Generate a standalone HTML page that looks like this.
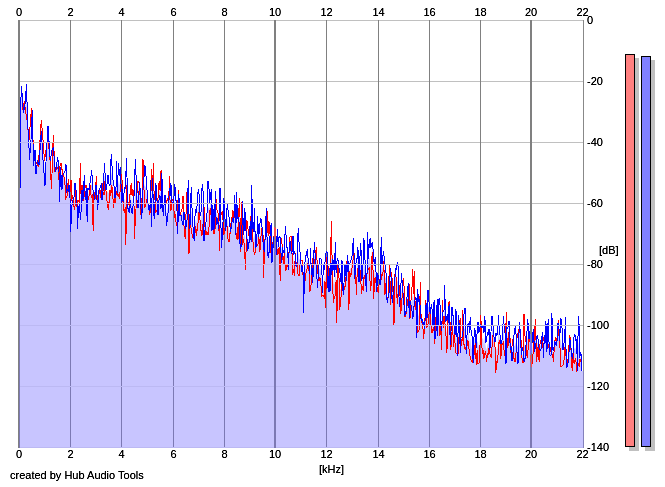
<!DOCTYPE html>
<html><head><meta charset="utf-8"><style>
html,body{margin:0;padding:0;background:#fff;}
body{width:665px;height:487px;position:relative;overflow:hidden;font-family:"Liberation Sans",sans-serif;font-size:11px;color:#000;}
.t{position:absolute;white-space:nowrap;line-height:11px;height:11px;}
.c{transform:translateX(-50%);}
svg{position:absolute;left:0;top:0;}
.bar{position:absolute;border:1px solid #000;box-shadow:4px 4px 0 #c0c0c0;}
</style></head><body>

<svg width="665" height="487" viewBox="0 0 665 487">
<path d="M19.0 448.0 L19.0 188.0 L19.5 188.0 L20.0 188.0 L20.5 188.0 L21.0 97.1 L21.5 86.0 L22.0 97.0 L22.5 102.8 L23.0 108.2 L23.5 109.8 L24.0 106.5 L24.5 104.8 L25.0 105.4 L25.5 104.4 L26.0 102.8 L26.5 101.1 L27.0 110.4 L27.5 123.5 L28.0 129.2 L28.5 135.0 L29.0 143.8 L29.5 146.8 L30.0 140.3 L30.5 133.7 L31.0 127.2 L31.5 118.2 L32.0 117.8 L32.5 124.3 L33.0 141.3 L33.5 155.5 L34.0 155.3 L34.5 155.2 L35.0 155.0 L35.5 161.5 L36.0 167.9 L36.5 166.0 L37.0 164.2 L37.5 162.3 L38.0 163.6 L38.5 163.1 L39.0 160.1 L39.5 152.6 L40.0 145.1 L40.5 137.5 L41.0 130.0 L41.5 128.4 L42.0 135.6 L42.5 142.8 L43.0 150.0 L43.5 156.8 L44.0 163.5 L44.5 170.2 L45.0 171.7 L45.5 163.8 L46.0 156.0 L46.5 148.4 L47.0 142.8 L47.5 137.1 L48.0 131.5 L48.5 138.2 L49.0 144.9 L49.5 151.5 L50.0 158.2 L50.5 164.7 L51.0 167.9 L51.5 171.1 L52.0 162.0 L52.5 154.1 L53.0 146.2 L53.5 144.8 L54.0 152.9 L54.5 161.1 L55.0 169.3 L55.5 171.4 L56.0 169.1 L56.5 166.9 L57.0 164.6 L57.5 163.5 L58.0 164.4 L58.5 170.2 L59.0 177.5 L59.5 186.9 L60.0 176.6 L60.5 168.3 L61.0 169.4 L61.5 177.0 L62.0 179.2 L62.5 178.7 L63.0 175.0 L63.5 175.1 L64.0 175.2 L64.5 176.6 L65.0 178.0 L65.5 180.8 L66.0 181.1 L66.5 192.0 L67.0 193.5 L67.5 189.8 L68.0 186.9 L68.5 185.1 L69.0 185.0 L69.5 190.1 L70.0 195.2 L70.5 206.3 L71.0 202.1 L71.5 204.7 L72.0 201.8 L72.5 198.8 L73.0 199.4 L73.5 200.7 L74.0 202.0 L74.5 200.7 L75.0 194.7 L75.5 192.7 L76.0 190.0 L76.5 195.6 L77.0 204.7 L77.5 215.1 L78.0 209.3 L78.5 205.4 L79.0 203.6 L79.5 200.9 L80.0 195.7 L80.5 193.5 L81.0 203.3 L81.5 196.3 L82.0 187.5 L82.5 193.6 L83.0 197.2 L83.5 198.1 L84.0 189.4 L84.5 186.7 L85.0 189.5 L85.5 193.0 L86.0 188.1 L86.5 195.7 L87.0 206.9 L87.5 202.7 L88.0 194.1 L88.5 194.5 L89.0 193.2 L89.5 188.3 L90.0 184.0 L90.5 184.9 L91.0 185.4 L91.5 184.5 L92.0 185.5 L92.5 195.6 L93.0 207.3 L93.5 202.1 L94.0 194.1 L94.5 196.4 L95.0 195.2 L95.5 194.6 L96.0 184.0 L96.5 188.3 L97.0 198.5 L97.5 203.4 L98.0 200.0 L98.5 195.8 L99.0 192.1 L99.5 190.5 L100.0 189.0 L100.5 191.6 L101.0 191.7 L101.5 191.5 L102.0 193.5 L102.5 190.9 L103.0 191.7 L103.5 188.6 L104.0 183.8 L104.5 175.5 L105.0 176.4 L105.5 182.1 L106.0 190.8 L106.5 192.7 L107.0 192.4 L107.5 191.8 L108.0 191.4 L108.5 193.3 L109.0 193.3 L109.5 190.9 L110.0 187.3 L110.5 182.8 L111.0 176.0 L111.5 171.7 L112.0 176.5 L112.5 181.2 L113.0 189.4 L113.5 195.4 L114.0 193.0 L114.5 195.2 L115.0 200.4 L115.5 197.3 L116.0 191.4 L116.5 177.1 L117.0 184.2 L117.5 192.2 L118.0 185.2 L118.5 180.0 L119.0 184.4 L119.5 185.1 L120.0 180.2 L120.5 178.8 L121.0 178.9 L121.5 185.7 L122.0 191.0 L122.5 192.8 L123.0 197.9 L123.5 205.2 L124.0 202.4 L124.5 199.8 L125.0 198.6 L125.5 203.4 L126.0 202.3 L126.5 183.1 L127.0 181.7 L127.5 197.5 L128.0 206.8 L128.5 206.6 L129.0 207.7 L129.5 209.5 L130.0 200.0 L130.5 194.1 L131.0 196.6 L131.5 200.2 L132.0 204.5 L132.5 201.4 L133.0 198.0 L133.5 196.5 L134.0 201.2 L134.5 211.9 L135.0 197.9 L135.5 189.1 L136.0 191.5 L136.5 194.0 L137.0 196.6 L137.5 196.3 L138.0 194.6 L138.5 190.5 L139.0 187.1 L139.5 185.3 L140.0 191.2 L140.5 202.1 L141.0 210.4 L141.5 211.2 L142.0 205.2 L142.5 192.8 L143.0 174.1 L143.5 178.6 L144.0 183.7 L144.5 185.6 L145.0 186.6 L145.5 186.6 L146.0 189.2 L146.5 193.0 L147.0 196.3 L147.5 199.8 L148.0 203.6 L148.5 206.2 L149.0 208.0 L149.5 210.3 L150.0 209.3 L150.5 193.7 L151.0 198.4 L151.5 195.6 L152.0 189.8 L152.5 187.3 L153.0 184.6 L153.5 188.9 L154.0 203.9 L154.5 205.4 L155.0 201.1 L155.5 199.0 L156.0 198.7 L156.5 202.2 L157.0 205.6 L157.5 208.9 L158.0 206.5 L158.5 196.9 L159.0 191.0 L159.5 189.7 L160.0 192.9 L160.5 192.4 L161.0 189.6 L161.5 184.6 L162.0 185.5 L162.5 202.3 L163.0 209.2 L163.5 211.8 L164.0 204.6 L164.5 199.1 L165.0 197.8 L165.5 201.8 L166.0 209.4 L166.5 213.5 L167.0 210.9 L167.5 208.6 L168.0 206.9 L168.5 205.9 L169.0 194.0 L169.5 184.2 L170.0 196.2 L170.5 201.0 L171.0 197.0 L171.5 199.1 L172.0 200.4 L172.5 201.4 L173.0 202.6 L173.5 203.9 L174.0 203.4 L174.5 201.6 L175.0 201.8 L175.5 203.7 L176.0 211.4 L176.5 216.4 L177.0 218.5 L177.5 220.8 L178.0 212.0 L178.5 198.3 L179.0 199.4 L179.5 208.7 L180.0 214.8 L180.5 214.9 L181.0 213.6 L181.5 213.2 L182.0 214.9 L182.5 213.6 L183.0 210.3 L183.5 214.8 L184.0 219.0 L184.5 223.0 L185.0 228.3 L185.5 228.5 L186.0 220.6 L186.5 211.9 L187.0 206.0 L187.5 200.1 L188.0 194.3 L188.5 208.5 L189.0 234.3 L189.5 226.8 L190.0 220.3 L190.5 216.5 L191.0 210.8 L191.5 212.3 L192.0 221.0 L192.5 228.5 L193.0 230.6 L193.5 232.8 L194.0 235.1 L194.5 231.5 L195.0 224.3 L195.5 220.1 L196.0 219.4 L196.5 223.9 L197.0 218.4 L197.5 211.1 L198.0 207.8 L198.5 204.1 L199.0 203.3 L199.5 208.8 L200.0 217.0 L200.5 220.4 L201.0 221.5 L201.5 215.5 L202.0 211.2 L202.5 208.5 L203.0 207.7 L203.5 209.0 L204.0 225.4 L204.5 224.0 L205.0 228.7 L205.5 229.5 L206.0 228.5 L206.5 225.8 L207.0 221.8 L207.5 214.9 L208.0 207.5 L208.5 207.5 L209.0 208.0 L209.5 208.5 L210.0 205.1 L210.5 203.1 L211.0 203.2 L211.5 206.6 L212.0 219.8 L212.5 214.4 L213.0 214.5 L213.5 223.1 L214.0 231.8 L214.5 224.1 L215.0 216.5 L215.5 206.7 L216.0 210.8 L216.5 213.2 L217.0 214.4 L217.5 216.2 L218.0 218.5 L218.5 221.3 L219.0 226.3 L219.5 223.6 L220.0 205.9 L220.5 207.5 L221.0 219.7 L221.5 230.7 L222.0 226.2 L222.5 223.3 L223.0 221.2 L223.5 217.8 L224.0 217.4 L224.5 220.4 L225.0 223.6 L225.5 226.8 L226.0 223.6 L226.5 222.4 L227.0 217.6 L227.5 218.7 L228.0 224.0 L228.5 227.1 L229.0 229.7 L229.5 230.6 L230.0 230.4 L230.5 228.5 L231.0 226.3 L231.5 224.4 L232.0 219.6 L232.5 215.9 L233.0 216.2 L233.5 217.3 L234.0 217.1 L234.5 210.0 L235.0 210.3 L235.5 225.5 L236.0 228.0 L236.5 217.5 L237.0 219.1 L237.5 223.8 L238.0 229.0 L238.5 221.4 L239.0 215.3 L239.5 217.9 L240.0 230.5 L240.5 242.3 L241.0 245.6 L241.5 229.4 L242.0 219.7 L242.5 223.3 L243.0 229.9 L243.5 237.2 L244.0 237.1 L244.5 234.5 L245.0 235.4 L245.5 245.2 L246.0 242.4 L246.5 233.0 L247.0 230.1 L247.5 236.9 L248.0 239.0 L248.5 239.1 L249.0 239.2 L249.5 236.4 L250.0 227.1 L250.5 224.9 L251.0 228.3 L251.5 207.1 L252.0 211.5 L252.5 226.1 L253.0 235.4 L253.5 239.6 L254.0 236.9 L254.5 232.4 L255.0 241.8 L255.5 248.3 L256.0 245.1 L256.5 241.8 L257.0 239.9 L257.5 232.0 L258.0 233.4 L258.5 235.0 L259.0 236.4 L259.5 237.5 L260.0 236.8 L260.5 230.8 L261.0 227.5 L261.5 226.4 L262.0 227.3 L262.5 232.4 L263.0 239.8 L263.5 258.9 L264.0 257.3 L264.5 248.6 L265.0 239.7 L265.5 232.4 L266.0 225.6 L266.5 223.9 L267.0 228.0 L267.5 231.7 L268.0 245.3 L268.5 242.0 L269.0 237.3 L269.5 234.6 L270.0 234.8 L270.5 238.0 L271.0 239.1 L271.5 240.9 L272.0 254.9 L272.5 248.2 L273.0 244.0 L273.5 239.9 L274.0 242.3 L274.5 240.6 L275.0 240.5 L275.5 244.3 L276.0 247.0 L276.5 249.2 L277.0 243.2 L277.5 244.1 L278.0 248.0 L278.5 247.5 L279.0 242.4 L279.5 247.9 L280.0 256.3 L280.5 253.5 L281.0 247.0 L281.5 249.1 L282.0 250.7 L282.5 250.8 L283.0 255.2 L283.5 257.3 L284.0 254.0 L284.5 251.5 L285.0 249.4 L285.5 247.8 L286.0 252.9 L286.5 254.7 L287.0 256.2 L287.5 257.4 L288.0 261.0 L288.5 265.0 L289.0 252.8 L289.5 243.8 L290.0 239.8 L290.5 241.3 L291.0 243.6 L291.5 248.5 L292.0 252.9 L292.5 256.5 L293.0 254.4 L293.5 261.3 L294.0 262.5 L294.5 263.6 L295.0 257.4 L295.5 258.0 L296.0 265.3 L296.5 264.9 L297.0 262.4 L297.5 258.7 L298.0 253.8 L298.5 254.0 L299.0 258.7 L299.5 260.0 L300.0 258.2 L300.5 257.2 L301.0 263.0 L301.5 265.6 L302.0 266.2 L302.5 268.3 L303.0 273.2 L303.5 288.6 L304.0 289.4 L304.5 278.0 L305.0 271.7 L305.5 266.9 L306.0 264.2 L306.5 262.4 L307.0 259.8 L307.5 259.7 L308.0 260.6 L308.5 263.7 L309.0 268.8 L309.5 278.2 L310.0 277.9 L310.5 268.6 L311.0 274.1 L311.5 277.1 L312.0 270.6 L312.5 269.3 L313.0 267.8 L313.5 262.2 L314.0 257.4 L314.5 253.8 L315.0 256.2 L315.5 257.6 L316.0 257.5 L316.5 256.7 L317.0 269.6 L317.5 278.2 L318.0 276.7 L318.5 275.0 L319.0 273.2 L319.5 268.9 L320.0 268.4 L320.5 269.9 L321.0 272.9 L321.5 277.3 L322.0 285.3 L322.5 294.2 L323.0 285.1 L323.5 280.6 L324.0 282.8 L324.5 278.6 L325.0 271.7 L325.5 280.3 L326.0 271.4 L326.5 259.4 L327.0 254.4 L327.5 269.0 L328.0 277.0 L328.5 281.7 L329.0 276.3 L329.5 279.0 L330.0 289.8 L330.5 271.6 L331.0 251.0 L331.5 250.8 L332.0 263.5 L332.5 271.6 L333.0 277.3 L333.5 281.9 L334.0 284.8 L334.5 284.0 L335.0 274.4 L335.5 270.1 L336.0 275.8 L336.5 286.4 L337.0 286.1 L337.5 269.7 L338.0 262.1 L338.5 263.1 L339.0 272.5 L339.5 284.0 L340.0 290.0 L340.5 289.1 L341.0 289.5 L341.5 281.4 L342.0 269.7 L342.5 280.4 L343.0 288.8 L343.5 291.8 L344.0 286.1 L344.5 277.4 L345.0 275.9 L345.5 275.5 L346.0 276.6 L346.5 272.3 L347.0 262.6 L347.5 256.9 L348.0 267.5 L348.5 277.5 L349.0 283.6 L349.5 271.2 L350.0 268.2 L350.5 269.3 L351.0 267.1 L351.5 264.8 L352.0 262.2 L352.5 257.6 L353.0 251.6 L353.5 247.9 L354.0 254.6 L354.5 266.3 L355.0 271.3 L355.5 269.4 L356.0 273.5 L356.5 276.1 L357.0 267.8 L357.5 261.8 L358.0 262.1 L358.5 269.4 L359.0 275.3 L359.5 268.4 L360.0 263.4 L360.5 262.7 L361.0 266.5 L361.5 285.7 L362.0 284.1 L362.5 280.3 L363.0 276.9 L363.5 268.6 L364.0 258.3 L364.5 263.6 L365.0 270.1 L365.5 276.9 L366.0 281.7 L366.5 283.3 L367.0 272.7 L367.5 257.0 L368.0 257.3 L368.5 262.9 L369.0 258.0 L369.5 257.6 L370.0 260.2 L370.5 265.1 L371.0 267.0 L371.5 256.3 L372.0 249.5 L372.5 248.6 L373.0 259.1 L373.5 272.3 L374.0 276.9 L374.5 273.6 L375.0 268.4 L375.5 271.1 L376.0 277.2 L376.5 285.4 L377.0 286.7 L377.5 283.6 L378.0 283.5 L378.5 285.5 L379.0 282.5 L379.5 280.2 L380.0 282.6 L380.5 277.1 L381.0 263.6 L381.5 262.4 L382.0 268.9 L382.5 267.3 L383.0 263.9 L383.5 258.0 L384.0 263.1 L384.5 272.9 L385.0 279.3 L385.5 276.7 L386.0 278.2 L386.5 287.5 L387.0 300.2 L387.5 299.9 L388.0 297.2 L388.5 291.4 L389.0 283.9 L389.5 274.7 L390.0 283.2 L390.5 282.4 L391.0 279.1 L391.5 280.4 L392.0 288.6 L392.5 292.2 L393.0 293.7 L393.5 299.3 L394.0 305.2 L394.5 286.8 L395.0 275.6 L395.5 269.2 L396.0 273.4 L396.5 278.4 L397.0 281.6 L397.5 281.4 L398.0 280.2 L398.5 279.5 L399.0 290.8 L399.5 296.7 L400.0 298.0 L400.5 302.2 L401.0 297.0 L401.5 290.9 L402.0 289.1 L402.5 287.7 L403.0 286.9 L403.5 290.0 L404.0 295.7 L404.5 306.8 L405.0 315.6 L405.5 315.6 L406.0 312.4 L406.5 307.6 L407.0 301.4 L407.5 295.2 L408.0 292.6 L408.5 293.0 L409.0 297.9 L409.5 303.5 L410.0 310.1 L410.5 305.7 L411.0 302.6 L411.5 302.0 L412.0 299.3 L412.5 295.1 L413.0 298.8 L413.5 301.8 L414.0 291.3 L414.5 292.9 L415.0 302.8 L415.5 302.1 L416.0 300.5 L416.5 315.3 L417.0 320.9 L417.5 312.7 L418.0 312.8 L418.5 316.5 L419.0 315.0 L419.5 310.9 L420.0 300.8 L420.5 301.5 L421.0 317.5 L421.5 319.9 L422.0 321.0 L422.5 323.0 L423.0 325.9 L423.5 329.9 L424.0 330.0 L424.5 328.2 L425.0 318.9 L425.5 309.5 L426.0 304.5 L426.5 312.3 L427.0 322.6 L427.5 315.0 L428.0 306.7 L428.5 306.5 L429.0 307.8 L429.5 310.2 L430.0 312.4 L430.5 314.6 L431.0 316.8 L431.5 318.9 L432.0 320.9 L432.5 324.2 L433.0 326.7 L433.5 320.6 L434.0 316.2 L434.5 333.2 L435.0 337.8 L435.5 329.8 L436.0 323.8 L436.5 316.5 L437.0 305.9 L437.5 312.5 L438.0 319.8 L438.5 311.3 L439.0 312.0 L439.5 315.6 L440.0 319.1 L440.5 322.3 L441.0 330.2 L441.5 338.6 L442.0 322.9 L442.5 309.0 L443.0 316.9 L443.5 316.8 L444.0 313.2 L444.5 304.8 L445.0 311.6 L445.5 322.1 L446.0 328.5 L446.5 332.0 L447.0 332.9 L447.5 323.9 L448.0 317.9 L448.5 311.2 L449.0 303.9 L449.5 314.8 L450.0 329.8 L450.5 341.7 L451.0 338.7 L451.5 325.8 L452.0 319.7 L452.5 316.5 L453.0 325.4 L453.5 333.5 L454.0 331.6 L454.5 333.4 L455.0 339.1 L455.5 335.0 L456.0 331.9 L456.5 337.4 L457.0 345.6 L457.5 352.5 L458.0 342.9 L458.5 333.9 L459.0 330.0 L459.5 328.8 L460.0 331.6 L460.5 338.5 L461.0 338.7 L461.5 340.4 L462.0 338.1 L462.5 326.4 L463.0 325.8 L463.5 332.5 L464.0 329.2 L464.5 328.4 L465.0 328.7 L465.5 333.5 L466.0 342.8 L466.5 348.7 L467.0 340.5 L467.5 335.6 L468.0 333.0 L468.5 333.8 L469.0 338.2 L469.5 344.4 L470.0 338.9 L470.5 339.6 L471.0 345.1 L471.5 348.0 L472.0 349.2 L472.5 352.6 L473.0 356.8 L473.5 353.4 L474.0 345.2 L474.5 338.7 L475.0 337.7 L475.5 339.1 L476.0 350.7 L476.5 352.0 L477.0 343.1 L477.5 341.3 L478.0 342.6 L478.5 345.7 L479.0 347.2 L479.5 344.6 L480.0 336.4 L480.5 324.3 L481.0 323.4 L481.5 329.4 L482.0 337.4 L482.5 339.6 L483.0 337.8 L483.5 341.3 L484.0 345.1 L484.5 339.2 L485.0 336.4 L485.5 344.9 L486.0 348.6 L486.5 350.3 L487.0 346.9 L487.5 343.4 L488.0 344.3 L488.5 342.3 L489.0 338.4 L489.5 346.8 L490.0 350.8 L490.5 350.4 L491.0 343.8 L491.5 336.8 L492.0 331.6 L492.5 328.0 L493.0 329.8 L493.5 332.7 L494.0 337.1 L494.5 340.9 L495.0 344.5 L495.5 351.0 L496.0 351.4 L496.5 349.3 L497.0 348.6 L497.5 348.7 L498.0 339.8 L498.5 330.5 L499.0 334.0 L499.5 337.0 L500.0 339.5 L500.5 346.1 L501.0 349.9 L501.5 346.0 L502.0 342.1 L502.5 338.4 L503.0 333.6 L503.5 328.3 L504.0 336.9 L504.5 342.9 L505.0 343.4 L505.5 343.5 L506.0 343.5 L506.5 332.0 L507.0 332.8 L507.5 336.3 L508.0 336.3 L508.5 332.7 L509.0 326.4 L509.5 327.7 L510.0 340.3 L510.5 348.5 L511.0 350.2 L511.5 353.0 L512.0 353.6 L512.5 349.6 L513.0 346.9 L513.5 346.9 L514.0 346.6 L514.5 345.9 L515.0 345.1 L515.5 342.2 L516.0 343.5 L516.5 344.4 L517.0 344.7 L517.5 346.2 L518.0 348.0 L518.5 338.5 L519.0 331.3 L519.5 327.6 L520.0 331.0 L520.5 337.3 L521.0 344.3 L521.5 350.3 L522.0 354.4 L522.5 355.1 L523.0 357.0 L523.5 348.1 L524.0 337.5 L524.5 344.5 L525.0 347.0 L525.5 345.1 L526.0 343.7 L526.5 342.6 L527.0 343.4 L527.5 339.0 L528.0 336.4 L528.5 337.7 L529.0 338.7 L529.5 336.7 L530.0 339.1 L530.5 352.0 L531.0 357.7 L531.5 358.4 L532.0 353.4 L532.5 347.5 L533.0 342.7 L533.5 340.9 L534.0 342.2 L534.5 342.3 L535.0 337.7 L535.5 334.6 L536.0 341.3 L536.5 347.3 L537.0 346.6 L537.5 343.0 L538.0 343.1 L538.5 345.6 L539.0 353.8 L539.5 351.8 L540.0 346.6 L540.5 345.7 L541.0 345.1 L541.5 343.8 L542.0 341.7 L542.5 338.8 L543.0 341.5 L543.5 346.0 L544.0 342.0 L544.5 338.9 L545.0 341.8 L545.5 337.4 L546.0 332.9 L546.5 341.4 L547.0 346.1 L547.5 341.8 L548.0 335.5 L548.5 336.0 L549.0 343.2 L549.5 349.6 L550.0 352.6 L550.5 353.0 L551.0 351.0 L551.5 343.5 L552.0 335.9 L552.5 346.4 L553.0 353.8 L553.5 355.2 L554.0 349.6 L554.5 343.1 L555.0 341.2 L555.5 340.6 L556.0 343.3 L556.5 342.5 L557.0 339.3 L557.5 334.7 L558.0 329.9 L558.5 324.6 L559.0 329.1 L559.5 340.5 L560.0 340.7 L560.5 338.7 L561.0 342.7 L561.5 345.0 L562.0 347.3 L562.5 352.1 L563.0 357.8 L563.5 354.8 L564.0 351.1 L564.5 345.8 L565.0 338.9 L565.5 335.2 L566.0 352.2 L566.5 365.9 L567.0 365.3 L567.5 364.5 L568.0 361.3 L568.5 354.9 L569.0 348.1 L569.5 341.1 L570.0 338.6 L570.5 342.8 L571.0 349.3 L571.5 356.6 L572.0 362.2 L572.5 361.1 L573.0 354.0 L573.5 350.6 L574.0 349.6 L574.5 348.3 L575.0 347.5 L575.5 348.7 L576.0 351.3 L576.5 355.1 L577.0 362.0 L577.5 369.6 L578.0 351.2 L578.5 341.5 L579.0 344.8 L579.5 354.5 L580.0 357.7 L580.5 357.2 L581.0 357.6 L581.5 360.3 L582.0 371.0 L582.5 371.0 L583.0 371.0 L584.0 371.0 L584.0 448.0 Z" fill="#c8c5ff"/>
<g style="mix-blend-mode:luminosity"><rect x="70" y="20" width="1" height="428" fill="#808080"/><rect x="121" y="20" width="1" height="428" fill="#808080"/><rect x="173" y="20" width="1" height="428" fill="#808080"/><rect x="224" y="20" width="1" height="428" fill="#808080"/><rect x="326" y="20" width="1" height="428" fill="#808080"/><rect x="378" y="20" width="1" height="428" fill="#808080"/><rect x="429" y="20" width="1" height="428" fill="#808080"/><rect x="480" y="20" width="1" height="428" fill="#808080"/></g>
<path d="M22.0 101.0 L23.0 110.0 L24.3 101.0 L25.5 111.0 L27.0 120.0 L29.0 140.0 L31.5 108.0 L33.0 140.0 L35.0 160.0 L38.3 166.0 L41.3 120.0 L43.0 140.0 L44.5 161.0 L46.0 150.0 L48.0 137.0 L50.0 160.0 L51.5 189.0 L53.3 135.0 L55.0 172.0 L57.0 167.0 L58.1 169.4 L59.0 180.0 L59.8 166.9 L61.0 163.0 L62.4 172.0 L63.0 175.0 L64.1 177.2 L65.0 185.0 L65.8 198.1 L67.0 196.0 L68.3 179.5 L69.0 185.0 L70.0 192.5 L71.0 180.0 L71.7 200.6 L72.5 195.0 L73.4 202.0 L74.4 210.0 L75.1 205.7 L76.0 190.0 L76.8 207.0 L78.0 200.0 L79.4 202.0 L80.4 163.0 L81.1 198.1 L82.0 185.0 L82.8 192.9 L83.6 200.7 L84.2 195.0 L85.3 186.3 L86.0 185.0 L87.0 198.3 L88.0 200.0 L88.7 199.8 L90.0 185.0 L91.3 197.3 L92.1 195.8 L93.2 231.0 L93.8 192.5 L94.7 192.8 L95.5 199.2 L96.2 176.5 L97.2 202.6 L98.0 195.0 L98.9 194.8 L100.0 190.0 L100.6 196.9 L101.5 199.4 L102.2 182.6 L103.2 194.7 L104.0 195.0 L105.2 178.0 L106.6 201.0 L107.4 201.1 L108.2 210.0 L109.1 201.7 L110.0 190.0 L110.8 195.9 L111.5 185.0 L112.5 189.7 L113.5 208.0 L114.2 197.3 L115.1 203.1 L116.0 195.0 L116.8 192.2 L117.6 195.0 L118.5 194.3 L119.3 198.5 L120.2 190.3 L121.0 174.3 L121.9 177.4 L122.7 197.7 L123.6 209.0 L124.4 213.0 L125.3 206.6 L125.8 244.6 L127.0 185.1 L127.8 206.1 L128.7 202.1 L129.5 205.9 L130.4 186.2 L131.2 184.5 L132.1 196.2 L132.9 189.8 L133.8 191.1 L134.5 238.6 L135.5 215.1 L136.3 204.8 L137.2 189.8 L138.0 180.9 L138.9 182.8 L139.7 186.6 L140.8 214.5 L141.4 206.0 L142.3 194.2 L143.0 159.3 L144.0 190.1 L144.8 207.9 L145.7 204.2 L146.5 200.6 L147.4 203.1 L148.2 204.8 L149.1 206.0 L149.9 214.5 L150.8 198.7 L151.6 169.0 L152.5 196.9 L153.3 163.0 L154.2 198.1 L155.0 199.9 L155.9 211.9 L156.7 210.6 L157.6 209.5 L158.4 187.3 L159.3 180.9 L160.1 190.7 L161.1 169.8 L161.8 189.6 L162.7 204.7 L163.5 207.7 L164.4 202.3 L165.2 199.8 L166.1 203.6 L166.9 200.5 L167.8 198.5 L168.6 208.9 L169.4 175.8 L170.3 211.2 L171.2 209.2 L172.0 198.7 L172.9 200.3 L173.7 206.8 L174.6 218.4 L175.4 214.5 L176.3 225.0 L177.1 225.9 L178.4 190.0 L179.7 213.7 L180.5 214.3 L181.4 210.1 L182.2 208.6 L183.0 196.0 L183.9 224.5 L185.2 238.6 L186.5 200.0 L187.3 188.2 L188.2 202.9 L189.0 254.4 L189.9 214.5 L190.7 227.6 L191.6 230.0 L192.4 237.9 L193.3 232.2 L194.1 231.2 L195.0 232.9 L195.8 225.8 L196.5 235.6 L197.5 226.8 L198.4 220.4 L199.2 209.8 L200.1 221.6 L200.9 229.8 L201.8 236.0 L202.6 231.6 L203.5 215.7 L204.3 206.6 L205.2 232.4 L206.0 235.3 L206.9 231.3 L207.7 234.0 L208.8 234.0 L209.4 215.0 L210.3 208.0 L211.1 215.3 L212.0 208.1 L212.8 217.3 L214.0 234.0 L215.4 227.6 L216.2 199.5 L217.0 210.0 L217.9 212.1 L218.8 216.6 L219.3 250.6 L220.5 206.9 L221.3 214.2 L222.2 212.7 L223.0 220.3 L223.9 234.7 L224.7 230.9 L226.0 220.0 L227.3 228.0 L228.1 240.1 L229.0 241.6 L229.8 236.5 L230.7 223.6 L231.5 222.7 L232.8 209.6 L234.1 217.6 L234.9 215.6 L235.8 231.5 L236.6 238.6 L237.5 227.1 L238.0 240.0 L239.3 198.3 L240.0 217.0 L240.9 252.3 L241.8 202.0 L242.6 244.7 L243.4 239.4 L244.3 244.9 L245.6 270.0 L246.8 219.7 L247.7 226.6 L248.5 232.9 L249.4 238.0 L250.2 225.2 L250.9 215.6 L251.9 221.3 L252.8 239.2 L253.6 249.2 L254.6 255.0 L255.3 251.5 L256.2 240.7 L257.0 245.5 L257.9 245.3 L258.7 234.2 L259.9 252.0 L261.3 232.0 L262.1 227.4 L263.0 233.5 L263.6 277.7 L264.7 243.5 L265.5 233.3 L266.4 235.2 L267.4 211.0 L268.1 236.0 L268.9 221.2 L269.8 227.6 L270.6 251.0 L271.5 255.9 L272.3 242.6 L273.2 244.0 L274.0 236.6 L274.9 227.0 L275.7 236.6 L276.6 244.0 L277.4 254.5 L278.3 253.3 L279.1 246.9 L280.2 280.7 L280.8 242.4 L281.7 237.6 L282.5 254.3 L283.4 264.0 L284.2 253.2 L285.1 264.8 L285.9 271.3 L286.8 264.2 L287.6 266.8 L288.5 260.9 L289.3 247.3 L290.0 237.0 L291.0 236.4 L291.9 249.7 L292.7 275.4 L293.6 269.1 L294.5 276.0 L295.3 253.0 L296.1 266.4 L297.0 262.1 L297.8 273.5 L299.0 276.0 L300.4 260.9 L301.2 260.9 L302.1 260.6 L302.9 273.9 L303.8 282.6 L304.6 283.6 L305.5 278.8 L306.3 270.2 L307.2 268.7 L308.0 263.3 L308.9 267.5 L309.8 292.3 L310.6 289.0 L311.4 282.3 L312.3 267.0 L313.1 257.2 L314.0 264.9 L314.8 260.9 L315.7 252.0 L316.5 246.6 L317.4 269.4 L318.2 275.7 L319.1 281.2 L319.9 277.6 L320.8 282.7 L321.6 296.3 L322.5 295.4 L323.3 295.3 L324.2 297.1 L325.0 281.4 L325.6 308.0 L326.7 257.6 L327.6 258.1 L328.4 273.7 L329.3 278.8 L330.1 289.3 L331.3 221.0 L332.7 288.2 L333.5 302.9 L334.4 296.9 L335.2 295.5 L336.1 280.1 L336.8 323.0 L337.8 265.2 L338.6 261.3 L339.8 309.6 L341.2 294.8 L342.0 279.3 L342.9 284.8 L343.7 291.0 L344.6 287.6 L345.4 285.6 L346.3 273.4 L347.4 254.8 L348.0 261.1 L348.9 309.6 L349.7 270.7 L350.5 276.8 L351.4 273.1 L352.2 267.0 L353.1 259.3 L353.9 251.7 L354.8 265.7 L355.6 272.4 L356.4 295.3 L357.3 267.8 L358.2 275.8 L359.0 268.2 L359.9 269.0 L360.7 279.1 L361.6 293.9 L362.4 285.6 L363.3 290.9 L364.1 275.1 L365.0 278.9 L365.8 278.1 L366.7 275.9 L367.5 270.4 L368.4 269.9 L369.2 266.9 L370.1 282.6 L370.9 290.7 L371.8 257.9 L372.6 251.7 L373.7 299.0 L374.3 285.0 L375.2 276.6 L376.0 282.6 L376.9 286.5 L377.7 291.7 L378.6 292.5 L379.4 278.6 L380.3 282.7 L381.1 279.9 L382.0 273.8 L382.8 275.8 L383.7 261.4 L385.0 294.6 L386.2 281.1 L387.1 300.1 L387.9 299.1 L388.8 279.3 L389.6 265.0 L390.2 305.0 L391.3 272.1 L392.2 279.3 L393.0 292.0 L394.0 324.7 L394.7 277.1 L395.6 268.3 L396.4 285.8 L397.3 303.6 L398.1 293.2 L399.0 285.2 L399.8 290.8 L400.7 314.0 L401.5 306.8 L402.4 291.0 L403.2 278.5 L404.0 286.0 L404.9 316.4 L405.5 316.5 L406.6 310.5 L407.5 300.1 L408.3 298.9 L409.3 283.8 L410.0 318.8 L410.9 300.7 L411.7 296.7 L412.6 268.8 L413.4 293.7 L414.2 271.0 L415.1 310.3 L416.0 300.8 L416.8 310.7 L417.7 331.8 L418.5 331.3 L419.4 328.4 L420.3 281.6 L421.1 317.8 L421.9 323.0 L422.8 324.8 L423.6 339.0 L424.5 329.3 L425.8 299.6 L427.0 327.0 L427.9 325.4 L428.7 315.8 L429.6 310.3 L430.4 314.5 L431.3 331.5 L432.1 333.0 L433.0 329.5 L433.8 327.4 L434.8 343.6 L435.5 321.0 L436.4 314.0 L437.2 304.8 L438.1 313.2 L438.9 323.3 L439.8 336.3 L440.6 323.9 L441.6 349.6 L442.4 299.6 L443.2 327.7 L444.0 315.9 L444.9 323.2 L445.7 330.3 L446.9 352.6 L448.3 307.1 L449.1 300.9 L450.0 321.8 L450.8 349.8 L451.7 336.6 L452.5 325.4 L453.6 346.6 L454.2 333.6 L455.1 344.2 L455.9 353.0 L456.8 353.2 L457.6 353.3 L458.5 353.5 L459.3 327.4 L460.2 317.9 L461.0 339.4 L461.9 345.6 L462.7 310.0 L463.6 340.8 L464.4 348.0 L465.3 349.0 L466.1 347.2 L467.0 346.4 L467.8 340.3 L468.7 345.0 L469.5 355.8 L470.4 356.4 L471.2 361.3 L472.1 362.2 L472.9 355.0 L473.8 357.3 L474.6 346.7 L475.5 342.9 L476.2 364.7 L477.2 350.3 L478.0 363.5 L478.9 363.3 L479.7 358.6 L480.7 315.4 L481.4 328.3 L482.2 354.0 L483.1 350.2 L484.0 358.5 L484.8 353.5 L485.7 352.1 L486.7 361.7 L487.4 353.9 L488.2 354.3 L489.1 347.2 L490.3 356.0 L491.6 357.5 L492.5 335.7 L493.3 334.3 L494.2 337.4 L495.0 346.9 L495.7 373.0 L496.7 362.0 L497.6 362.7 L498.4 347.0 L499.3 340.2 L500.1 344.4 L500.8 359.0 L501.8 344.4 L502.7 344.4 L503.5 340.8 L504.4 356.2 L505.2 353.2 L506.3 312.3 L506.9 336.4 L507.8 348.1 L508.6 340.8 L509.5 322.1 L510.3 346.3 L511.3 356.0 L512.0 346.0 L512.9 339.3 L513.7 357.4 L515.0 362.0 L516.3 350.9 L517.1 336.2 L518.0 332.6 L518.8 329.9 L519.7 331.1 L520.5 336.3 L521.4 343.1 L522.2 362.5 L523.1 362.6 L524.0 314.0 L524.8 334.5 L525.6 338.9 L526.5 345.9 L527.1 357.6 L528.2 348.9 L529.0 338.4 L529.9 339.6 L530.7 359.6 L531.6 366.6 L532.4 360.8 L533.3 350.9 L534.1 341.5 L535.4 319.3 L536.7 361.9 L537.5 350.6 L538.4 345.0 L539.1 362.0 L540.1 342.7 L540.9 339.9 L541.8 349.0 L542.6 344.3 L543.5 336.8 L544.3 340.3 L545.2 342.5 L546.0 341.7 L546.9 342.4 L547.7 349.1 L548.6 344.5 L549.4 345.1 L550.3 352.2 L551.1 346.4 L552.0 354.4 L552.8 356.3 L553.4 362.0 L554.5 344.9 L555.4 337.2 L556.2 342.6 L557.1 337.5 L557.9 338.6 L558.7 320.0 L559.6 344.9 L560.5 351.1 L561.0 366.6 L562.2 366.1 L563.0 365.2 L563.9 362.0 L564.7 347.5 L565.6 348.4 L566.4 363.9 L567.7 363.6 L569.0 345.3 L569.8 335.3 L570.7 343.8 L571.5 359.0 L572.2 371.0 L573.2 351.0 L574.1 363.9 L574.9 360.3 L575.8 358.7 L576.6 371.9 L577.5 368.5 L578.3 363.8 L579.2 365.3 L580.0 359.2 L580.9 361.9 L581.7 356.7" fill="none" stroke="#ff0000" stroke-width="1" shape-rendering="crispEdges"/><path d="M20.5 188.0 L20.6 106.0 L21.5 86.0 L22.5 100.0 L23.5 113.0 L25.0 104.0 L26.6 84.0 L27.5 122.0 L28.5 135.0 L29.5 160.0 L31.0 140.0 L32.3 110.0 L33.5 166.0 L35.0 150.0 L36.0 174.0 L37.5 160.0 L39.0 165.0 L41.3 131.0 L43.0 160.0 L45.0 186.0 L46.5 150.0 L48.0 126.0 L50.3 161.0 L52.0 150.0 L53.3 148.0 L55.5 172.0 L57.8 157.0 L59.0 172.4 L59.5 202.0 L60.7 167.4 L61.6 190.0 L62.4 187.7 L63.0 175.0 L64.1 173.1 L64.9 171.7 L66.0 164.5 L66.6 191.7 L67.5 190.0 L68.3 190.7 L69.0 185.0 L70.0 198.0 L70.6 232.0 L72.0 205.0 L73.0 200.0 L74.3 196.6 L75.0 183.0 L76.0 190.0 L76.8 190.8 L77.4 229.0 L78.5 210.0 L79.4 202.9 L80.4 220.0 L81.1 210.4 L82.0 190.0 L82.8 200.5 L83.6 195.7 L84.2 175.0 L85.5 200.0 L86.2 188.5 L87.2 222.0 L87.9 187.9 L89.0 190.0 L89.6 185.5 L90.4 180.6 L91.7 170.5 L93.0 190.0 L93.8 193.9 L94.5 200.0 L96.0 185.0 L97.7 210.0 L98.9 190.0 L100.0 188.0 L100.6 187.2 L101.5 183.2 L102.0 200.0 L103.2 189.2 L104.5 163.0 L106.0 190.0 L106.6 184.8 L107.4 182.6 L108.0 175.0 L109.1 184.8 L110.0 185.9 L111.2 154.0 L113.0 180.0 L114.2 186.7 L115.0 198.0 L115.9 193.2 L116.5 161.0 L117.6 192.6 L118.3 163.0 L119.3 175.5 L120.2 167.2 L121.0 183.6 L121.9 203.6 L122.7 189.4 L123.5 202.0 L124.4 187.2 L125.3 189.3 L126.5 157.8 L127.8 207.8 L128.7 211.0 L129.5 213.0 L130.4 200.4 L131.2 210.7 L132.1 213.5 L132.9 206.6 L133.8 200.5 L134.6 183.1 L135.3 159.3 L136.3 181.0 L137.2 205.1 L138.0 208.3 L138.9 192.5 L139.7 182.5 L140.6 198.2 L141.4 218.9 L142.3 210.2 L143.1 186.0 L144.0 177.0 L144.8 165.4 L145.7 169.0 L146.5 185.4 L147.4 194.1 L148.2 205.5 L149.0 210.0 L149.9 210.4 L150.6 179.6 L151.3 227.3 L152.5 178.2 L153.3 202.9 L154.2 218.8 L155.0 202.4 L155.9 183.3 L156.7 196.8 L158.0 215.3 L159.3 195.3 L160.1 196.5 L161.0 209.3 L161.9 172.8 L162.7 209.9 L163.5 215.9 L164.4 196.7 L165.2 194.6 L166.4 225.8 L167.8 216.4 L168.6 202.4 L169.5 188.1 L170.3 195.7 L170.9 182.6 L172.0 202.2 L172.9 204.1 L173.7 202.0 L174.6 184.4 L175.4 189.7 L176.3 205.7 L177.1 212.1 L177.7 234.0 L178.8 193.7 L180.0 215.7 L181.4 215.3 L182.2 222.6 L183.1 224.7 L183.9 211.8 L184.8 216.4 L185.6 229.2 L186.5 225.0 L187.3 216.6 L188.2 180.3 L189.0 214.2 L189.9 228.5 L191.2 187.0 L192.4 218.2 L193.3 231.1 L194.2 240.9 L195.0 216.5 L195.8 209.5 L196.7 212.7 L197.5 195.5 L198.7 188.6 L200.1 214.1 L200.9 215.5 L201.8 189.0 L202.6 184.3 L203.5 199.1 L204.0 240.9 L205.2 227.9 L206.0 221.8 L206.9 216.5 L208.0 181.0 L208.8 181.0 L209.4 203.3 L210.3 198.5 L211.3 189.3 L212.0 231.0 L212.8 204.9 L214.0 229.5 L215.5 190.8 L216.2 225.3 L217.1 218.4 L217.9 223.8 L218.8 228.8 L220.0 187.8 L221.5 247.6 L222.2 237.0 L223.0 222.1 L223.8 197.6 L224.7 212.3 L225.6 230.6 L226.4 224.1 L227.2 203.6 L228.1 210.2 L229.0 217.3 L229.8 225.8 L230.6 232.0 L231.5 226.1 L232.4 218.5 L233.2 222.5 L234.1 216.6 L234.8 194.6 L235.8 234.9 L236.6 192.3 L237.5 219.4 L238.3 217.3 L239.2 223.8 L240.0 244.0 L240.9 248.7 L241.7 238.6 L242.6 200.6 L243.4 235.1 L244.3 229.2 L244.8 208.0 L246.0 231.3 L246.8 235.0 L247.7 251.4 L248.6 244.6 L249.4 240.5 L250.2 221.5 L251.1 241.6 L251.6 184.8 L252.8 227.5 L253.6 231.8 L254.6 208.0 L255.3 247.6 L256.0 247.6 L257.0 234.2 L257.6 215.6 L258.7 237.1 L259.6 228.4 L260.4 218.4 L261.3 219.8 L262.1 227.6 L263.0 242.2 L263.8 249.6 L264.4 250.6 L265.5 231.5 L266.3 208.0 L267.2 243.7 L268.1 257.4 L268.9 254.6 L269.8 238.9 L270.6 226.4 L271.5 223.2 L272.0 262.6 L273.4 237.0 L274.0 248.0 L274.9 251.7 L275.7 254.9 L276.6 254.8 L277.2 228.8 L278.3 246.7 L279.1 235.9 L280.0 237.4 L280.8 249.9 L281.7 262.6 L282.5 247.2 L283.4 252.6 L284.2 252.2 L285.4 225.8 L286.8 247.1 L287.6 248.4 L288.5 270.0 L289.3 243.5 L290.2 242.4 L291.0 250.7 L291.9 254.1 L293.0 235.6 L293.6 254.9 L294.4 250.6 L295.3 255.6 L296.1 267.0 L297.0 263.5 L298.2 228.0 L299.5 249.7 L300.5 253.6 L301.2 269.6 L302.1 271.9 L302.9 266.3 L303.8 312.6 L304.2 279.0 L305.3 255.6 L306.5 255.0 L307.2 249.4 L308.0 257.9 L308.9 264.4 L309.7 274.3 L310.5 248.0 L311.4 274.5 L312.3 267.6 L312.8 282.6 L314.3 242.0 L315.7 264.1 L316.5 266.9 L317.4 287.9 L318.2 276.5 L319.5 258.6 L320.8 258.6 L321.6 260.1 L322.5 293.0 L323.3 264.1 L324.2 269.9 L325.0 261.9 L325.9 253.4 L327.0 251.0 L327.6 282.8 L328.4 292.0 L329.3 268.4 L330.0 291.6 L331.0 263.2 L331.8 274.8 L332.7 259.9 L333.5 260.8 L334.4 276.8 L335.3 242.0 L336.1 272.6 L336.9 261.8 L337.8 257.9 L338.6 265.3 L339.5 270.2 L340.3 273.9 L341.2 284.4 L342.0 260.0 L342.9 290.8 L343.6 294.6 L344.6 265.5 L345.4 265.0 L346.3 281.0 L347.4 254.8 L348.0 271.8 L348.8 262.4 L349.7 264.1 L350.5 261.8 L351.4 258.0 L352.2 255.4 L353.4 237.6 L354.8 278.7 L355.6 265.6 L356.5 260.2 L357.3 257.6 L357.9 246.6 L359.0 282.4 L359.9 258.2 L360.9 242.8 L361.6 281.3 L362.4 276.4 L363.3 259.4 L363.9 237.6 L365.0 259.9 L365.8 284.1 L366.7 291.7 L367.7 232.3 L368.4 258.7 L369.2 245.2 L370.1 238.3 L370.9 247.7 L372.2 242.0 L373.5 253.5 L374.3 266.4 L375.2 257.0 L376.0 271.7 L376.7 291.6 L377.7 273.0 L378.6 278.9 L379.4 280.8 L380.3 285.1 L381.2 236.8 L382.0 264.4 L382.8 256.8 L383.7 251.1 L384.5 263.4 L385.7 264.6 L387.1 302.7 L388.0 297.6 L388.8 297.6 L389.6 280.8 L390.5 267.9 L391.3 282.0 L392.2 303.0 L393.0 295.5 L393.9 286.6 L394.7 281.7 L395.6 269.0 L396.4 269.6 L397.4 261.6 L398.5 269.5 L399.2 306.6 L399.5 304.5 L400.7 294.3 L401.3 272.6 L402.4 284.8 L403.2 294.8 L404.1 306.1 L404.9 314.9 L405.8 314.6 L406.6 302.8 L407.5 290.8 L408.3 283.2 L409.3 318.0 L410.0 301.3 L410.9 304.8 L411.7 306.9 L412.6 319.1 L413.4 314.1 L414.3 302.6 L415.1 299.3 L416.0 297.3 L416.8 337.6 L417.7 288.7 L418.5 301.8 L419.4 299.4 L420.2 307.0 L421.1 320.4 L421.9 318.2 L422.8 323.1 L423.6 322.4 L424.5 329.0 L425.3 315.9 L426.2 302.6 L427.0 318.2 L428.0 289.8 L428.7 297.0 L429.6 310.6 L430.4 313.9 L431.3 304.3 L432.1 309.7 L433.0 325.2 L434.1 299.6 L434.7 338.2 L435.5 338.6 L436.4 325.3 L437.2 298.6 L437.8 336.0 L438.6 299.6 L439.8 298.6 L440.6 321.9 L441.5 331.1 L442.3 315.9 L443.2 310.7 L444.0 310.5 L444.6 285.3 L445.7 322.3 L446.6 318.7 L447.4 314.5 L448.3 322.7 L449.1 304.0 L450.0 335.4 L450.6 345.0 L451.7 307.3 L452.5 307.5 L453.4 321.4 L454.2 326.3 L455.1 335.1 L455.9 308.6 L456.8 327.0 L457.4 355.6 L458.5 315.1 L459.3 327.9 L460.4 352.6 L461.0 338.0 L461.9 337.5 L462.7 333.5 L463.6 325.5 L464.2 308.6 L465.3 308.8 L466.4 354.0 L467.0 335.6 L467.8 324.9 L468.7 323.3 L469.5 333.0 L470.2 317.0 L471.2 333.3 L472.1 336.4 L473.2 363.0 L473.8 339.5 L474.6 328.1 L475.5 332.9 L476.3 347.8 L477.2 330.7 L478.0 321.7 L478.9 332.6 L479.7 328.7 L480.6 324.3 L481.4 327.3 L482.3 327.3 L483.1 324.6 L484.0 332.8 L484.9 316.0 L485.7 342.7 L486.5 340.7 L487.4 332.3 L488.2 335.0 L489.1 328.9 L489.7 349.6 L490.8 342.9 L491.3 316.3 L492.0 316.0 L493.3 327.5 L494.2 339.4 L495.0 342.0 L495.9 332.7 L496.7 335.0 L497.6 334.7 L498.5 314.8 L499.3 331.2 L500.1 335.7 L501.0 343.8 L501.8 342.9 L502.7 330.1 L503.5 315.9 L504.4 329.5 L505.2 333.8 L506.0 363.6 L506.9 327.9 L507.8 328.1 L509.0 320.8 L510.3 349.4 L511.2 346.9 L512.0 361.2 L512.9 354.4 L513.7 336.5 L514.6 331.3 L515.4 325.5 L516.3 337.5 L517.1 353.4 L518.0 363.6 L518.8 335.6 L519.7 321.9 L520.5 338.3 L521.4 355.1 L522.6 347.0 L523.9 360.9 L524.8 361.5 L525.6 350.5 L526.5 339.1 L527.8 319.3 L529.0 339.1 L529.9 330.8 L530.7 354.8 L531.6 350.7 L532.4 336.2 L533.3 329.5 L534.6 351.6 L535.8 344.8 L536.7 336.4 L537.5 335.4 L538.4 341.3 L539.2 349.8 L540.1 349.5 L540.9 350.8 L541.8 337.5 L542.6 332.0 L543.6 357.6 L544.3 335.2 L545.2 342.9 L545.9 320.8 L546.9 352.3 L548.2 318.6 L549.4 352.9 L550.3 355.9 L551.2 354.6 L551.9 313.3 L552.8 349.3 L553.7 350.1 L554.5 341.4 L555.4 342.4 L556.2 346.2 L557.1 340.5 L557.9 323.2 L558.8 325.2 L559.6 340.8 L560.9 317.8 L562.2 330.0 L563.0 350.4 L563.9 343.3 L564.7 339.8 L565.4 317.0 L566.4 368.2 L567.3 366.2 L568.1 363.0 L569.0 352.4 L569.8 338.4 L570.7 344.4 L571.5 354.3 L572.4 358.5 L573.2 351.3 L574.1 335.2 L574.9 334.2 L575.8 340.0 L576.6 339.8 L577.5 371.0 L578.3 316.5 L579.2 326.4 L579.7 357.6 L580.9 351.8 L582.0 371.0" fill="none" stroke="#0000ff" stroke-width="1" shape-rendering="crispEdges"/>
<g style="mix-blend-mode:luminosity"><rect x="18" y="20" width="566" height="1" fill="#c0c0c0"/><rect x="18" y="81" width="566" height="1" fill="#c0c0c0"/><rect x="18" y="142" width="566" height="1" fill="#c0c0c0"/><rect x="18" y="203" width="566" height="1" fill="#c0c0c0"/><rect x="18" y="264" width="566" height="1" fill="#c0c0c0"/><rect x="18" y="325" width="566" height="1" fill="#c0c0c0"/><rect x="18" y="386" width="566" height="1" fill="#c0c0c0"/><rect x="18" y="447" width="566" height="1" fill="#c0c0c0"/><rect x="70" y="20" width="1" height="156" fill="#808080"/><rect x="121" y="20" width="1" height="144" fill="#808080"/><rect x="173" y="20" width="1" height="161" fill="#808080"/><rect x="224" y="20" width="1" height="174" fill="#808080"/><rect x="326" y="20" width="1" height="228" fill="#808080"/><rect x="378" y="20" width="1" height="248" fill="#808080"/><rect x="429" y="20" width="1" height="266" fill="#808080"/><rect x="480" y="20" width="1" height="292" fill="#808080"/><rect x="18" y="20" width="2" height="428" fill="#808080"/><rect x="274" y="20" width="2" height="428" fill="#808080"/><rect x="530" y="20" width="2" height="428" fill="#808080"/><rect x="583" y="20" width="1" height="428" fill="#888888"/></g>
</svg>
<svg width="0" height="0" style="position:absolute"><filter id="crisp" x="0" y="0" width="100%" height="100%"><feComponentTransfer><feFuncA type="linear" slope="1.4" intercept="0"/></feComponentTransfer></filter></svg>
<div id="txt" style="position:absolute;left:0;top:0;width:665px;height:487px;filter:url(#crisp)">
<div class="t c" style="left:19.0px;top:7px">0</div>
<div class="t c" style="left:19.0px;top:449px">0</div>
<div class="t c" style="left:70.5px;top:7px">2</div>
<div class="t c" style="left:70.5px;top:449px">2</div>
<div class="t c" style="left:121.5px;top:7px">4</div>
<div class="t c" style="left:121.5px;top:449px">4</div>
<div class="t c" style="left:173.5px;top:7px">6</div>
<div class="t c" style="left:173.5px;top:449px">6</div>
<div class="t c" style="left:224.5px;top:7px">8</div>
<div class="t c" style="left:224.5px;top:449px">8</div>
<div class="t c" style="left:275.0px;top:7px">10</div>
<div class="t c" style="left:275.0px;top:449px">10</div>
<div class="t c" style="left:326.5px;top:7px">12</div>
<div class="t c" style="left:326.5px;top:449px">12</div>
<div class="t c" style="left:378.5px;top:7px">14</div>
<div class="t c" style="left:378.5px;top:449px">14</div>
<div class="t c" style="left:429.5px;top:7px">16</div>
<div class="t c" style="left:429.5px;top:449px">16</div>
<div class="t c" style="left:480.5px;top:7px">18</div>
<div class="t c" style="left:480.5px;top:449px">18</div>
<div class="t c" style="left:531.0px;top:7px">20</div>
<div class="t c" style="left:531.0px;top:449px">20</div>
<div class="t c" style="left:582.5px;top:7px">22</div>
<div class="t c" style="left:582.5px;top:449px">22</div>
<div class="t" style="left:587px;top:20px;margin-top:-5px">0</div>
<div class="t" style="left:587px;top:81px;margin-top:-5px">-20</div>
<div class="t" style="left:587px;top:142px;margin-top:-5px">-40</div>
<div class="t" style="left:587px;top:203px;margin-top:-5px">-60</div>
<div class="t" style="left:587px;top:264px;margin-top:-5px">-80</div>
<div class="t" style="left:587px;top:325px;margin-top:-5px">-100</div>
<div class="t" style="left:587px;top:386px;margin-top:-5px">-120</div>
<div class="t" style="left:587px;top:447px;margin-top:-5px">-140</div>
<div class="t" style="left:599px;top:245px">[dB]</div>
<div class="t" style="left:319px;top:464px">[kHz]</div>
<div class="t" style="left:10px;top:470px">created by Hub Audio Tools</div>
</div>
<div class="bar" style="left:625px;top:54px;width:8px;height:391px;background:#ff8080"></div>
<div class="bar" style="left:641px;top:56px;width:8px;height:389px;background:#8080ff"></div>
</body></html>
